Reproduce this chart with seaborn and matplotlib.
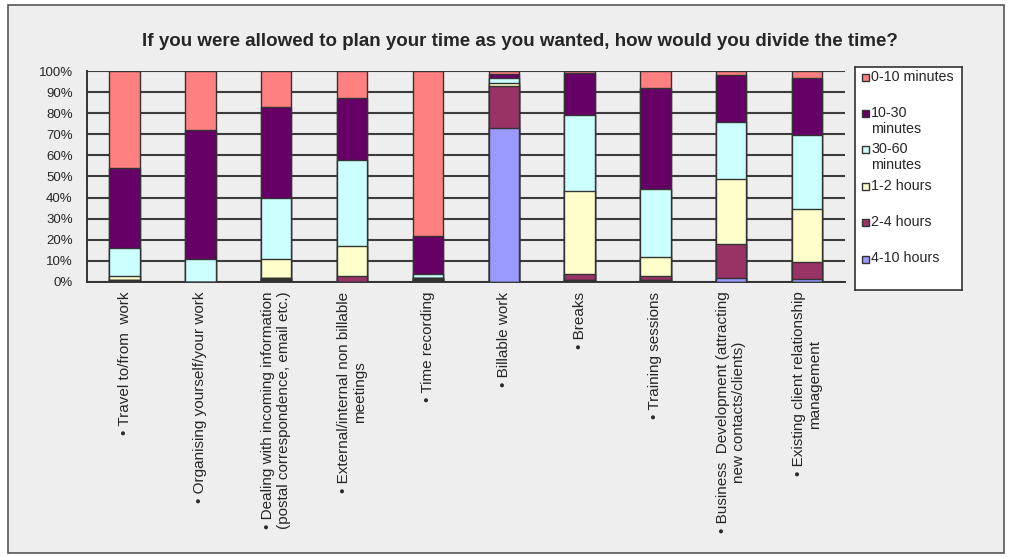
#!/usr/bin/env python3
"""Stacked 100% bars: how respondents would divide their time."""

import matplotlib
matplotlib.use("Agg")
import matplotlib.pyplot as plt
from matplotlib.patches import Rectangle
import numpy as np
import seaborn as sns

categories = [
    "\u2022 Travel to/from  work",
    "\u2022 Organising yourself/your work",
    "\u2022 Dealing with incoming information\n(postal correspondence, email etc.)",
    "\u2022 External/internal non billable\nmeetings",
    "\u2022 Time recording",
    "\u2022 Billable work",
    "\u2022 Breaks",
    "\u2022 Training sessions",
    "\u2022 Business  Development (attracting\nnew contacts/clients)",
    "\u2022 Existing client relationship\nmanagement",
]

# stacked bottom -> top, percent of answers
other = [1, 0, 2, 0, 2, 0, 1, 1, 0, 0]
h4_10 = [0, 0, 0, 0, 0, 73, 0, 0, 2, 1.5]
h2_4 = [0, 0, 0, 3, 0, 20, 3, 2, 16, 8]
h1_2 = [2, 0, 9, 14, 0, 1.5, 39, 9, 31, 25]
m30_60 = [13, 11, 29, 41, 2, 2, 36, 32, 27, 35]
m10_30 = [38, 61, 43, 29, 18, 2, 20, 48, 22, 27]
m0_10 = [46, 28, 17, 13, 78, 1.5, 1, 8, 2, 3.5]

series_labels = ["", "4-10 hours", "2-4 hours", "1-2 hours",
                 "30-60\nminutes", "10-30\nminutes", "0-10 minutes"]
series_values = [other, h4_10, h2_4, h1_2, m30_60, m10_30, m0_10]
series_colors = ["#333333", "#9999FF", "#993366", "#FFFFCC",
                 "#CCFFFF", "#660066", "#FF8080"]

BG = "#eeeeee"
EDGE = "#333333"
W, H = 1011, 557

sns.set_style("white")
plt.rcParams["font.family"] = ["Liberation Sans", "DejaVu Sans"]

fig = plt.figure(figsize=(W / 100, H / 100), dpi=100, facecolor="white")
frame = Rectangle((8 / W, 1 - 553 / H), (1004 - 8) / W, (553 - 5) / H,
                  transform=fig.transFigure, facecolor=BG,
                  edgecolor="#555555", linewidth=1.2, zorder=-5)
fig.patches.append(frame)

ax = fig.add_axes([86.7 / W, 1 - 282 / H, (845 - 86.7) / W, (282 - 71) / H])
ax.set_facecolor(BG)

# overlay cumulative bars, tallest first, to get the stacked look
cum = np.cumsum(np.array(series_values, dtype=float), axis=0)
xs = list(range(len(categories)))
for i in range(len(series_values) - 1, -1, -1):
    sns.barplot(x=xs, y=cum[i], color=series_colors[i], saturation=1,
                width=0.4, edgecolor=EDGE, linewidth=1.0, errorbar=None,
                ax=ax, zorder=3)

ax.set_xlim(-0.5, len(categories) - 0.5)
ax.set_ylim(0, 100)
ax.set_yticks(np.arange(0, 101, 10))
ax.set_yticklabels([f"{v}%" for v in range(0, 101, 10)], fontsize=9.5)
ax.yaxis.grid(True, color="#3c3c3c", linewidth=1.5)
ax.set_axisbelow(True)

ax.set_xticks(xs)
ax.set_xticklabels(categories, rotation=90, fontsize=11, ha="center",
                   va="top", multialignment="center", linespacing=1.15)
ax.set_xticks(np.arange(-0.5, len(categories), 1.0), minor=True)
ax.tick_params(axis="x", which="major", length=0, pad=7)
ax.tick_params(axis="x", which="minor", length=4, width=1.2, color="#333333",
               direction="out")
ax.tick_params(axis="y", length=5, width=1.2, color="#333333", direction="out",
               pad=5)
ax.set_xlabel("")
ax.set_ylabel("")
for side in ("top", "right"):
    ax.spines[side].set_visible(False)
for side in ("left", "bottom"):
    ax.spines[side].set_color("#333333")
    ax.spines[side].set_linewidth(1.4)

fig.text(520 / W, 1 - 42 / H,
         "If you were allowed to plan your time as you wanted, how would you divide the time?",
         ha="center", va="center", fontsize=13.5, fontweight="bold",
         family=["Liberation Sans Narrow", "Liberation Sans"])

# legend box, drawn in pixel units
lx0, ly0, lx1, ly1 = 855, 67, 962, 290
lg = fig.add_axes([lx0 / W, 1 - ly1 / H, (lx1 - lx0) / W, (ly1 - ly0) / H])
lg.set_xlim(0, lx1 - lx0)
lg.set_ylim(ly1 - ly0, 0)
lg.set_xticks([])
lg.set_yticks([])
lg.set_facecolor("white")
for sp in lg.spines.values():
    sp.set_color("#333333")
    sp.set_linewidth(1.2)
entries = list(zip(series_labels, series_colors))[1:][::-1]
for k, (lab, col) in enumerate(entries):
    yc = 10 + 36.4 * k
    lg.add_patch(Rectangle((7, yc - 3.5), 7, 7, facecolor=col, edgecolor=EDGE,
                           linewidth=1.0))
    lg.text(16, yc - 7.5, lab, ha="left", va="top", fontsize=10.3,
            linespacing=1.15)

fig.savefig("out.png", dpi=100, facecolor=fig.get_facecolor())
